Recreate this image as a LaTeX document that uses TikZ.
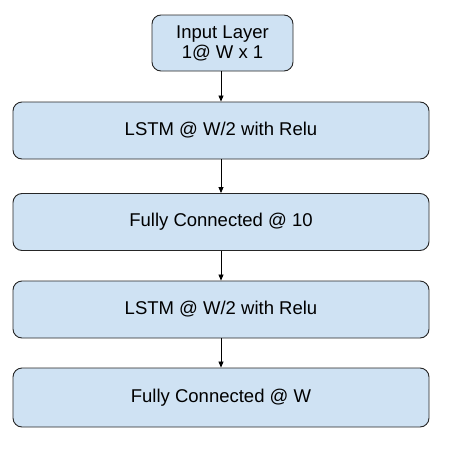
\documentclass[tikz,border=0pt]{standalone}
\usepackage{fontspec}
\setmainfont{Liberation Sans}
\usetikzlibrary{arrows.meta}
\definecolor{boxfill}{HTML}{CFE2F3}
\begin{document}
\begin{tikzpicture}[x=1pt,y=-1pt,
  layer/.style={draw=black!85, line width=0.9pt, fill=boxfill, rounded corners=9pt, inner sep=0pt, font=\fontsize{18.5}{22}\selectfont, align=center},
  conn/.style={draw=black, line width=0.8pt, -{Triangle[length=6pt,width=5pt]}}]
\useasboundingbox (0,0) rectangle (453,461);
\node[layer, minimum width=141pt, minimum height=56pt] (in) at (222.5,43) {Input Layer\\[-2pt]1@ W x 1};
\node[layer, minimum width=416pt, minimum height=57pt] (l1) at (221,130.5) {LSTM @ W/2 with Relu};
\node[layer, minimum width=416pt, minimum height=57pt] (f1) at (221,222) {Fully Connected @ 10};
\node[layer, minimum width=416pt, minimum height=57pt] (l2) at (221,309.5) {LSTM @ W/2 with Relu};
\node[layer, minimum width=416pt, minimum height=59pt] (f2) at (221,397.5) {Fully Connected @ W};
\draw[conn] (in.south -| l1.north) -- (l1.north);
\draw[conn] (l1) -- (f1);
\draw[conn] (f1) -- (l2);
\draw[conn] (l2) -- (f2);
\end{tikzpicture}
\end{document}
